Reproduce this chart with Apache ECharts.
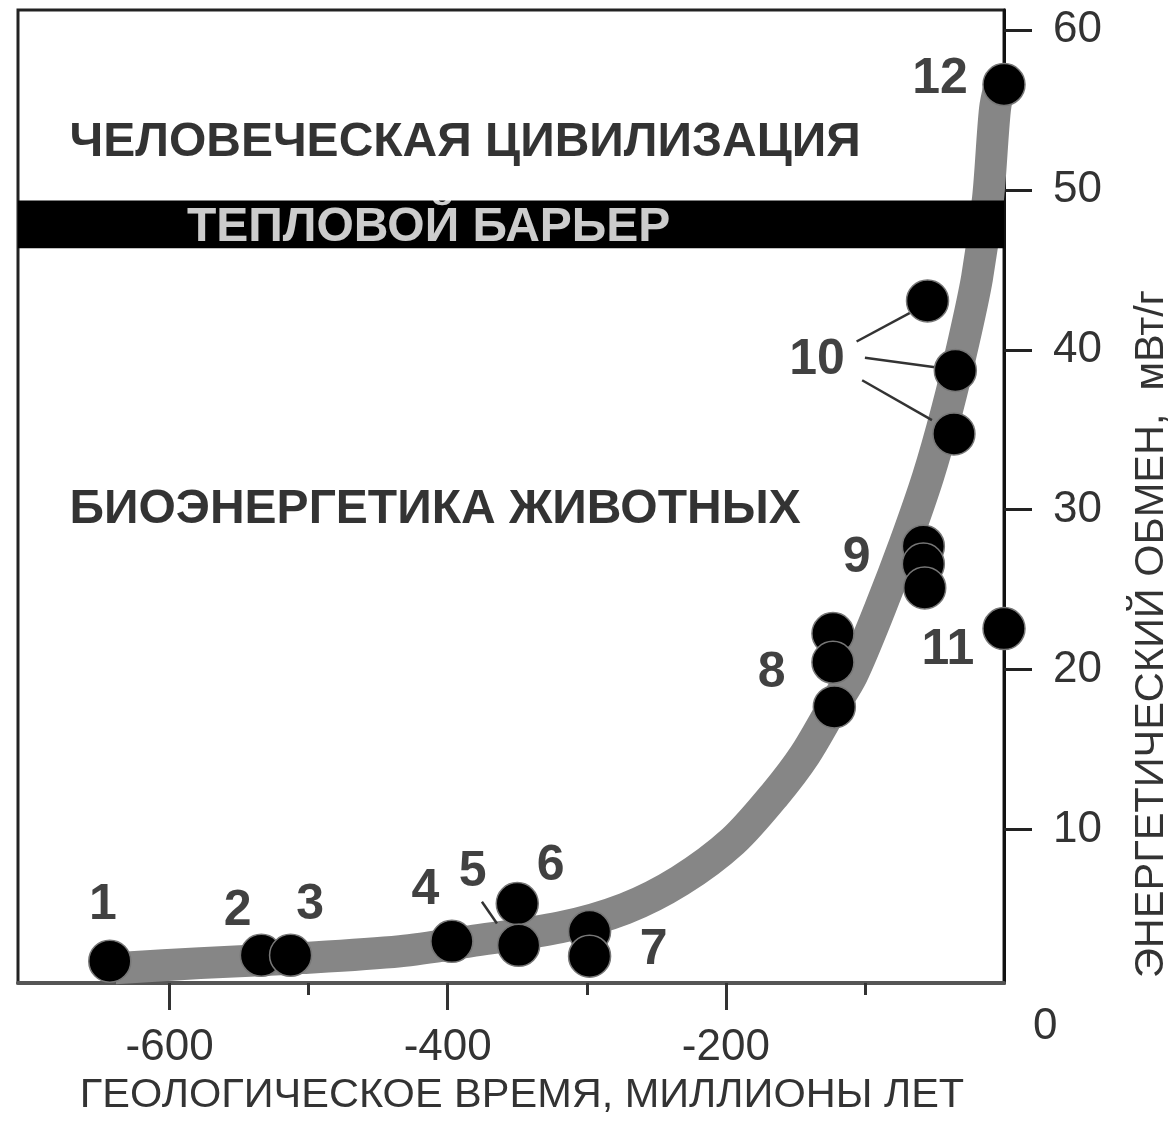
<!DOCTYPE html>
<html>
<head>
<meta charset="utf-8">
<script src="https://cdn.jsdelivr.net/npm/echarts@6/dist/echarts.min.js"></script>
<style>
html,body{margin:0;padding:0;background:#fff;}
#chart{width:1174px;height:1122px;}
</style>
</head>
<body>
<div id="chart"></div>
<script>
// ---- data ----
const xMin = -709, xMax = 0, yMin = 0.4, yMax = 61.25;
const xTickMajor = [-600, -400, -200];
const xTickMinor = [-500, -300, -100];
const yTicks = [10, 20, 30, 40, 50, 60];

// trend curve (grey band)
const curveX = [-639.2, -578.1, -506.2, -434.3, -384.0, -319.3, -272.5, -233.0, -194.9, -164.7, -143.1, -123.0, -109.3, -89.2, -71.2, -54.6, -41.0, -29.5, -19.4, -11.5, -6.5, -2.9];
const curveY = [1.33, 1.65, 1.96, 2.39, 3.01, 3.88, 5.06, 6.80, 9.28, 12.20, 14.69, 17.67, 19.65, 23.81, 27.90, 32.07, 36.23, 40.33, 44.49, 49.46, 55.04, 56.59];

// measured points (drawn upper-first so lower circles overlap)
const pointX = [-643, -534, -513, -397, -350, -349, -298, -298, -123, -123, -122, -58, -58, -57, -55, -35, -36, 0, 0];
const pointY = [1.77, 2.14, 2.14, 3.01, 5.37, 2.76, 3.63, 2.08, 22.26, 20.46, 17.67, 27.72, 26.60, 25.11, 43.06, 38.71, 34.74, 22.57, 56.59];

// number labels
const numText = ['1', '2', '3', '4', '5', '6', '7', '8', '9', '10', '11', '12'];
const numX = [-648, -551, -499, -416, -382, -326, -252, -167, -106, -134.5, -40.3, -46];
const numY = [5.25, 4.87, 5.25, 6.18, 7.36, 7.73, 2.45, 19.78, 26.98, 39.33, 21.2, 56.9];

// leader lines [x1, y1, x2, y2]
const leaders = [
  [-106, 40.52, -67.6, 42.31],
  [-100, 39.5, -48.2, 38.9],
  [-102, 38.1, -51.8, 35.6],
  [-375.4, 5.49, -364.6, 4.13]
];

// heat barrier band [x0, y0, x1, y1]
const barrier = [[xMin, 46.35, xMax, 49.33]];

// region captions
const regionText = ['ЧЕЛОВЕЧЕСКАЯ ЦИВИЛИЗАЦИЯ', 'БИОЭНЕРГЕТИКА ЖИВОТНЫХ'];
const regionX = [-672, -672];
const regionY = [52.96, 30.0];
const barrierText = 'ТЕПЛОВОЙ БАРЬЕР';
const barrierTextX = -587.5;
const barrierTextY = 47.65;

const xName = 'ГЕОЛОГИЧЕСКОЕ ВРЕМЯ, МИЛЛИОНЫ ЛЕТ';
const yName = 'ЭНЕРГЕТИЧЕСКИЙ ОБМЕН,  мВт/г';

// ---- chart ----
const FONT = 'Liberation Sans, Arial, sans-serif';
const chart = echarts.init(document.getElementById('chart'), null, {renderer: 'canvas'});

const option = {
  backgroundColor: '#fff',
  animation: false,
  textStyle: {fontFamily: FONT},
  grid: {left: 18, right: 170, top: 10, bottom: 132, show: true, borderColor: '#222', borderWidth: 3, backgroundColor: 'transparent'},
  xAxis: [{
    type: 'value', min: xMin, max: xMax, position: 'bottom',
    axisLine: {show: true, onZero: false, lineStyle: {color: '#555', width: 4}},
    axisTick: {show: true, customValues: xTickMajor, length: 27, lineStyle: {color: '#333', width: 3}},
    axisLabel: {show: true, customValues: xTickMajor, fontSize: 44, color: '#333', margin: 43, fontFamily: FONT},
    splitLine: {show: false},
    name: xName, nameLocation: 'middle', nameGap: 90,
    nameTextStyle: {fontSize: 41.5, color: '#333', fontFamily: FONT, padding: [0, 0, 0, 22]}
  }, {
    type: 'value', min: xMin, max: xMax, position: 'bottom',
    axisLine: {show: false},
    axisTick: {show: true, customValues: xTickMinor, length: 12, lineStyle: {color: '#333', width: 3}},
    axisLabel: {show: false},
    splitLine: {show: false}
  }],
  yAxis: [{
    type: 'value', min: yMin, max: yMax, position: 'right',
    axisLine: {show: true, onZero: false, lineStyle: {color: '#111', width: 3}},
    axisTick: {show: true, customValues: yTicks, length: 28, lineStyle: {color: '#222', width: 3}},
    axisLabel: {show: true, customValues: yTicks, fontSize: 44, color: '#333', margin: 49, fontFamily: FONT},
    splitLine: {show: false}
  }],
  graphic: [{
    type: 'text', left: 1033, top: 1005,
    style: {text: '0', fontSize: 44, fill: '#333', fontFamily: FONT}
  }, {
    type: 'text', x: 1152, y: 634, rotation: Math.PI / 2,
    style: {text: yName, fontSize: 41.5, fill: '#333', fontFamily: FONT, align: 'center', verticalAlign: 'middle'}
  }],
  series: [
    {
      type: 'line', z: 2, xAxisIndex: 0,
      data: curveX.map((x, i) => [x, curveY[i]]),
      smooth: 0.3, symbol: 'none',
      lineStyle: {color: '#868686', width: 32}
    },
    {
      type: 'custom', z: 3, xAxisIndex: 0,
      data: barrier,
      renderItem: function (params, api) {
        const p0 = api.coord([api.value(0), api.value(3)]);
        const p1 = api.coord([api.value(2), api.value(1)]);
        return {type: 'rect', shape: {x: p0[0], y: p0[1], width: p1[0] - p0[0], height: p1[1] - p0[1]}, style: {fill: '#000'}};
      },
      silent: true
    },
    {
      type: 'lines', coordinateSystem: 'cartesian2d', z: 4, xAxisIndex: 0,
      data: leaders.map(l => ({coords: [[l[0], l[1]], [l[2], l[3]]]})),
      lineStyle: {color: '#333', width: 2.5, opacity: 1}
    },
    {
      type: 'scatter', z: 5, xAxisIndex: 0,
      data: pointX.map((x, i) => [x, pointY[i]]),
      symbolSize: 42,
      itemStyle: {color: '#000', borderColor: '#777', borderWidth: 1.5, opacity: 1}
    },
    {
      type: 'scatter', z: 6, xAxisIndex: 0,
      data: numX.map((x, i) => ({value: [x, numY[i]], name: numText[i]})),
      symbolSize: 0,
      label: {show: true, position: 'inside', formatter: '{b}', fontSize: 50, fontWeight: 'bold', color: '#111', fontFamily: FONT}
    },
    {
      type: 'scatter', z: 6, xAxisIndex: 0,
      data: regionX.map((x, i) => ({value: [x, regionY[i]], name: regionText[i]})),
      symbolSize: 0,
      label: {show: true, position: 'inside', align: 'left', formatter: '{b}', fontSize: 48, fontWeight: 'bold', color: '#000', fontFamily: FONT}
    },
    {
      type: 'scatter', z: 6, xAxisIndex: 0,
      data: [{value: [barrierTextX, barrierTextY], name: barrierText}],
      symbolSize: 0,
      label: {show: true, position: 'inside', align: 'left', formatter: '{b}', fontSize: 48, fontWeight: 'bold', color: '#fff', fontFamily: FONT}
    }
  ]
};
chart.setOption(option);
</script>
</body>
</html>
